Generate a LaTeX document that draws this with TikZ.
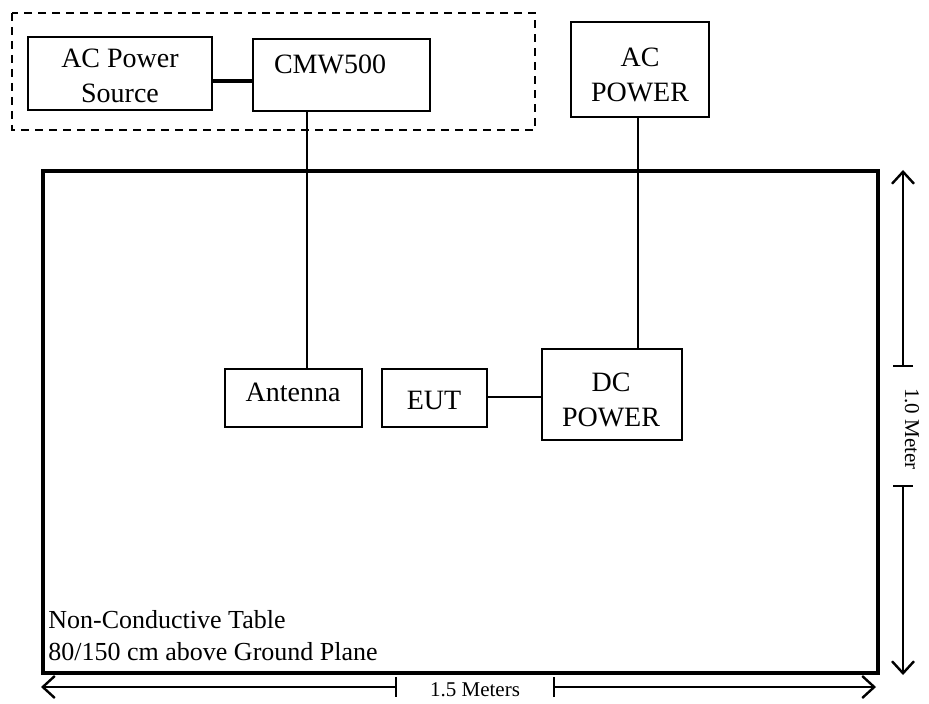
\documentclass[tikz,border=0pt]{standalone}
\usepackage{fontspec}
\setmainfont{Liberation Serif}
\usetikzlibrary{arrows.meta,fit,positioning}
\tikzset{
  unitbox/.style={draw, line width=1pt, inner sep=0pt},
  boxtext/.style={font=\fontsize{14}{17.5}\selectfont, align=center, inner sep=0pt},
  tabletext/.style={font=\fontsize{13}{16}\selectfont, align=left, anchor=west, inner sep=0pt},
  dimtext/.style={font=\fontsize{10.5}{12}\selectfont, inner sep=0pt},
  dimline/.style={line width=0.8pt, {Bar[width=10pt]}-{Straight Barb[length=6pt,width=11pt,line width=1.2pt]}},
  wire/.style={line width=1pt}
}

\begin{document}
\begin{tikzpicture}[x=0.5pt,y=-0.5pt]
\useasboundingbox (0,0) rectangle (929,704);

\draw[line width=1pt, dash pattern=on 4pt off 3pt] (12,13) rectangle (535,130);

\node[unitbox, fit={(28,37)(212,110)}] (acsrc) {};
\node[boxtext] (acsrctext) at (120,76) {AC Power\\Source};
\node[unitbox, fit={(253,39)(430,111)}] (cmw) {};
\node[boxtext] (cmwtext) at (330,64) {CMW500};
\node[unitbox, fit={(571,22)(709,117)}] (acpwr) {};
\node[boxtext] (acpwrtext) at (640,75) {AC\\POWER};

\node[unitbox, line width=1.8pt, fit={(43,171)(878,673)}] (tbl) {};

\node[unitbox, fit={(225,369)(362,427)}] (ant) {};
\node[boxtext] (anttext) at (293,392) {Antenna};
\node[unitbox, fit={(382,369)(487,427)}] (eut) {};
\node[boxtext] (euttext) at (434,400) {EUT};
\node[unitbox, fit={(542,349)(682,440)}] (dcpwr) {};
\node[boxtext] (dcpwrtext) at (611,400) {DC\\POWER};

\node[tabletext] (tbltext) at (48,636) {Non-Conductive Table\\80/150 cm above Ground Plane};

\draw[line width=1.6pt] ([yshift=-3.75pt]acsrc.east) -- ([yshift=-3.75pt]acsrc.east -| cmw.west);
\draw[wire] ([xshift=-17.5pt]cmw.south) -- ([xshift=-17.5pt]cmw.south |- ant.north);
\draw[wire] ([xshift=-1pt]acpwr.south) -- ([xshift=-1pt]acpwr.south |- dcpwr.north);
\draw[wire] ([yshift=0.5pt]eut.east) -- ([yshift=0.5pt]eut.east -| dcpwr.west);

\coordinate (vtop) at (903,170);
\coordinate (vbot) at (903,675);
\coordinate (vtick1) at (903,367);
\coordinate (vtick2) at (903,485);
\node[dimtext, rotate=-90] (vlabel) at (912,429) {1.0 Meter};
\draw[dimline] (vtick1) -- (vtop);
\draw[dimline] (vtick2) -- (vbot);

\coordinate (hleft) at (41,687);
\coordinate (hright) at (876,687);
\coordinate (htick1) at (397,687);
\coordinate (htick2) at (553,687);
\node[dimtext] (hlabel) at (475,690) {1.5 Meters};
\draw[dimline] (htick1) -- (hleft);
\draw[dimline] (htick2) -- (hright);
\end{tikzpicture}
\end{document}
